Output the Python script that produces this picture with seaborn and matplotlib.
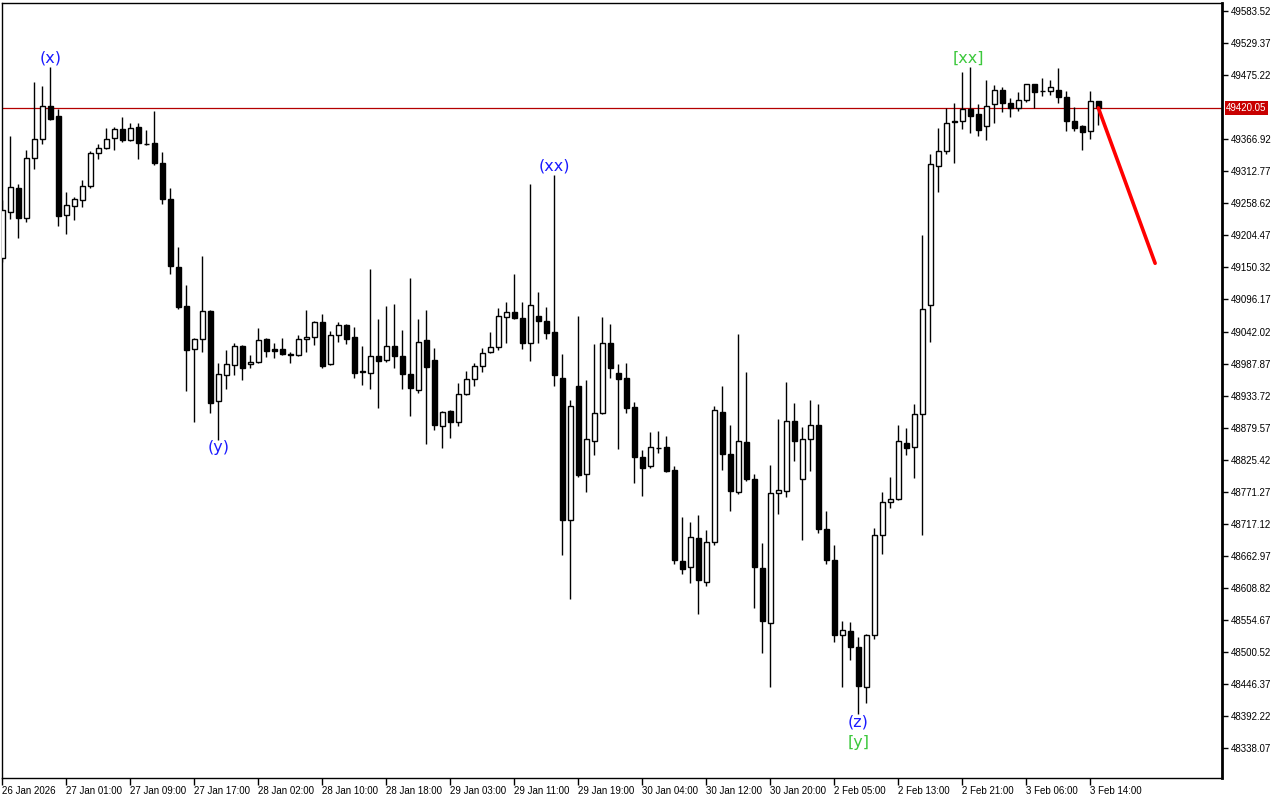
import numpy as np
import pandas as pd
import matplotlib
matplotlib.use("Agg")
import matplotlib.pyplot as plt
import matplotlib.transforms as mtransforms
import seaborn as sns

# -----------------------------
# Hourly bars (oldest first)
# -----------------------------
opens = [
    49166.3, 49244.6, 49284.1, 49234.4, 49334.9, 49367.0, 49422.8, 49405.9, 49238.5, 49253.7,
    49263.9, 49287.5, 49343.3, 49351.8, 49368.7, 49383.9, 49365.3, 49387.3, 49359.0, 49360.2,
    49326.4, 49265.6, 49150.6, 49084.7, 49012.0, 49028.9, 49076.2, 48924.6, 48968.0, 48985.0,
    49017.1, 48986.6, 48990.0, 49028.9, 49012.0, 49012.0, 49003.5, 49001.9, 49028.9, 49032.3,
    49058.1, 48986.6, 49035.7, 49052.6, 49032.3, 48974.1, 48971.4, 49000.2, 48993.4, 49017.1,
    49000.2, 48969.7, 48942.7, 49027.2, 48993.4, 48881.8, 48907.2, 48888.6, 48935.9, 48961.3,
    48983.3, 49006.9, 49015.4, 49066.1, 49074.5, 49064.4, 49022.1, 49067.8, 49059.3, 49040.7,
    48963.0, 48722.9, 48949.5, 48800.7, 48856.5, 48903.8, 49022.1, 48971.4, 48963.0, 48914.0,
    48829.4, 48814.2, 48844.6, 48846.3, 48807.5, 48653.6, 48643.5, 48692.5, 48618.1, 48685.8,
    48905.5, 48834.5, 48770.3, 48854.8, 48792.2, 48641.8, 48548.8, 48768.6, 48772.0, 48890.3,
    48792.2, 48859.9, 48883.5, 48707.7, 48655.3, 48528.5, 48535.3, 48508.8, 48440.5, 48529.7,
    48698.9, 48753.2, 48758.8, 48853.4, 48846.3, 48902.3, 49086.9, 49322.2, 49347.0, 49397.4,
    49397.4, 49417.7, 49409.1, 49389.6, 49426.1, 49449.5, 49427.7, 49419.9, 49433.9, 49459.6,
    49448.0, 49448.6, 49451.0, 49437.8, 49397.4, 49389.0, 49381.2, 49430.9,
]
highs = [
    49264.4, 49372.0, 49291.4, 49348.9, 49463.8, 49457.1, 49488.7, 49417.7, 49277.4, 49270.0,
    49298.2, 49347.2, 49358.5, 49385.6, 49387.3, 49404.2, 49394.0, 49394.0, 49382.2, 49414.8,
    49345.0, 49284.1, 49184.4, 49120.2, 49030.6, 49169.2, 49077.9, 48988.3, 49010.8, 49022.1,
    49019.3, 49001.9, 49047.5, 49030.5, 49022.1, 49030.6, 49006.9, 49035.7, 49077.9, 49059.8,
    49071.2, 49042.4, 49058.1, 49054.0, 49049.2, 49017.1, 49147.2, 49062.7, 49084.7, 49088.1,
    49044.1, 49132.0, 49062.7, 49077.9, 49013.7, 48907.2, 48908.9, 48954.5, 48975.3, 48988.3,
    49013.7, 49040.7, 49081.3, 49091.4, 49138.8, 49091.4, 49291.4, 49108.4, 49083.0, 49306.1,
    49003.5, 48925.8, 49067.8, 48959.6, 49020.5, 49066.1, 49054.3, 48986.6, 48988.3, 48922.4,
    48841.3, 48871.7, 48873.4, 48864.9, 48814.2, 48728.0, 48719.6, 48731.4, 48706.0, 48915.6,
    48949.5, 48883.5, 49037.4, 48973.1, 48800.7, 48684.1, 48815.9, 48893.7, 48956.2, 48920.7,
    48880.1, 48925.8, 48919.0, 48738.2, 48680.7, 48552.2, 48550.5, 48525.7, 48531.0, 48710.6,
    48770.4, 48796.1, 48884.4, 48879.0, 48920.2, 49205.0, 49342.3, 49385.7, 49420.7, 49427.7,
    49480.6, 49488.4, 49426.1, 49466.5, 49458.8, 49455.7, 49436.3, 49446.4, 49461.0, 49461.0,
    49471.3, 49466.5, 49486.7, 49448.0, 49422.3, 49390.5, 49448.0, 49432.0,
]
lows = [
    49159.6, 49232.2, 49200.6, 49227.7, 49317.3, 49359.5, 49400.1, 49220.9, 49207.4, 49231.1,
    49253.0, 49284.7, 49333.2, 49350.5, 49348.9, 49361.9, 49363.6, 49333.2, 49356.8, 49323.0,
    49257.1, 49138.8, 49079.6, 48942.0, 48889.6, 49006.9, 48903.8, 48858.7, 48945.4, 48968.0,
    48960.6, 48979.9, 48988.3, 48999.5, 48996.8, 49002.0, 48988.3, 49000.2, 49006.9, 49018.8,
    48979.9, 48985.0, 49023.8, 49020.5, 48964.0, 48951.1, 48944.4, 48912.3, 48990.0, 48979.9,
    48944.4, 48898.7, 48937.6, 48851.4, 48875.1, 48844.3, 48861.5, 48881.8, 48934.2, 48949.5,
    48973.1, 49005.2, 49010.3, 49022.1, 49062.7, 49012.0, 48991.7, 49022.1, 49028.9, 48949.5,
    48663.8, 48589.4, 48795.6, 48770.3, 48832.8, 48902.0, 48963.0, 48843.0, 48903.8, 48785.5,
    48764.5, 48810.8, 48836.2, 48804.0, 48648.6, 48631.7, 48616.4, 48564.0, 48611.4, 48680.7,
    48807.5, 48738.2, 48766.9, 48788.9, 48574.2, 48498.1, 48440.6, 48733.1, 48761.8, 48822.7,
    48689.1, 48805.8, 48701.0, 48648.6, 48516.7, 48441.7, 48486.3, 48395.5, 48414.9, 48522.3,
    48665.6, 48743.2, 48757.0, 48834.0, 48793.6, 48698.1, 49024.2, 49277.2, 49342.3, 49326.9,
    49385.1, 49377.3, 49371.9, 49365.6, 49395.2, 49413.0, 49404.5, 49414.5, 49430.0, 49419.9,
    49440.2, 49441.7, 49428.5, 49381.2, 49381.2, 49348.6, 49367.2, 49390.5,
]
closes = [
    49247.5, 49285.8, 49234.4, 49334.9, 49367.0, 49422.8, 49401.8, 49236.8, 49255.4, 49265.6,
    49288.0, 49343.3, 49351.8, 49367.0, 49383.9, 49365.3, 49385.6, 49360.2, 49358.5, 49326.4,
    49265.6, 49152.3, 49083.0, 49010.3, 49028.9, 49076.2, 48920.7, 48969.7, 48986.6, 49017.1,
    48979.9, 48990.0, 49027.2, 49008.6, 49008.6, 49003.5, 49003.0, 49028.9, 49032.3, 49058.1,
    48984.3, 49035.7, 49052.6, 49028.9, 48971.4, 48974.6, 49000.2, 48991.7, 49017.1, 49000.2,
    48969.7, 48946.1, 49023.8, 48981.6, 48883.5, 48905.5, 48888.6, 48935.9, 48961.3, 48983.3,
    49005.2, 49015.4, 49067.8, 49074.5, 49064.4, 49022.1, 49086.4, 49059.3, 49039.0, 48968.0,
    48722.9, 48915.6, 48799.0, 48859.9, 48903.8, 49022.1, 48979.9, 48961.3, 48912.3, 48829.4,
    48810.8, 48846.3, 48845.0, 48805.8, 48655.3, 48640.1, 48694.2, 48621.5, 48685.8, 48908.9,
    48834.5, 48772.0, 48856.5, 48792.2, 48643.5, 48552.2, 48768.6, 48773.6, 48890.3, 48856.5,
    48859.9, 48883.5, 48707.7, 48655.3, 48528.5, 48537.0, 48508.3, 48442.0, 48529.7, 48698.9,
    48753.2, 48758.8, 48857.3, 48845.7, 48902.3, 49079.3, 49325.2, 49347.0, 49395.2, 49397.0,
    49417.7, 49406.0, 49382.7, 49423.8, 49451.0, 49428.5, 49419.9, 49433.9, 49459.6, 49447.1,
    49448.3, 49454.9, 49438.7, 49397.4, 49385.7, 49378.8, 49431.6, 49420.05,
]

# x axis labels, one every 8 bars
date_labels = [
    "26 Jan 2026", "27 Jan 01:00", "27 Jan 09:00", "27 Jan 17:00", "28 Jan 02:00",
    "28 Jan 10:00", "28 Jan 18:00", "29 Jan 03:00", "29 Jan 11:00", "29 Jan 19:00",
    "30 Jan 04:00", "30 Jan 12:00", "30 Jan 20:00", "2 Feb 05:00", "2 Feb 13:00",
    "2 Feb 21:00", "3 Feb 06:00", "3 Feb 14:00",
]
date_label_bars = [0, 8, 16, 24, 32, 40, 48, 56, 64, 72, 80, 88, 96, 104, 112, 120, 128, 136]

# price scale labels (the one under the bid label is hidden)
price_ticks = [
    49583.52, 49529.37, 49475.22, 49366.92, 49312.77, 49258.62, 49204.47, 49150.32,
    49096.17, 49042.02, 48987.87, 48933.72, 48879.57, 48825.42, 48771.27, 48717.12,
    48662.97, 48608.82, 48554.67, 48500.52, 48446.37, 48392.22, 48338.07,
]
bid_price = 49420.05

# wave labels
wave_text = ["(x)", "(y)", "(xx)", "[xx]", "(z)", "[y]"]
wave_bar = [6, 27, 69, 120.8, 107, 107]
wave_price = [49504.4, 48845.2, 49321.8, 49504.4, 48382.0, 48346.5]
wave_color = ["#1a1aff", "#1a1aff", "#1a1aff", "#3cc83c", "#1a1aff", "#3cc83c"]

# projected move (red line)
proj_bar = [137, 144.1]
proj_price = [49420.05, 49157.4]

# -----------------------------
# Build dataframe
# -----------------------------
df = pd.DataFrame({"open": opens, "high": highs, "low": lows, "close": closes})
df["bar"] = np.arange(len(df))
df["bull"] = df["close"] >= df["open"]
df["body_lo"] = df[["open", "close"]].min(axis=1)
df["body_h"] = (df["close"] - df["open"]).abs()

# -----------------------------
# Plot
# -----------------------------
sns.set_theme(style="white")
plt.rcParams["font.family"] = ["Liberation Sans", "DejaVu Sans"]

fig = plt.figure(figsize=(12.8, 8), dpi=100)
ax = fig.add_axes([2 / 1280, 22 / 800, 1220 / 1280, 775.5 / 800])

# wicks then bodies
ax.vlines(df["bar"], df["low"], df["high"], color="black", linewidth=1, zorder=2)
ax.bar(df["bar"], df["body_h"], bottom=df["body_lo"], width=0.6,
       color=np.where(df["bull"], "white", "black"), edgecolor="black",
       linewidth=1, zorder=3)

# bid line
ax.axhline(bid_price, color="#b40000", linewidth=0.9, zorder=1)

# projection
sns.lineplot(x=proj_bar, y=proj_price, color="red", linewidth=2.6, ax=ax, zorder=4)

# wave labels
for t, b, p, c in zip(wave_text, wave_bar, wave_price, wave_color):
    ax.text(b, p, t, color=c, fontsize=11.5, ha="center", va="center",
            family=["DejaVu Sans"], zorder=5)

ax.set_xlim(-0.04, 152.46)
ax.set_ylim(48287.3, 49598.2)

# right price scale
ax.yaxis.tick_right()
ax.set_yticks(price_ticks)
ax.set_yticklabels([f"{v:.2f}" for v in price_ticks])
ax.tick_params(axis="y", direction="out", length=4, width=1, pad=2,
               labelsize=7, colors="black", right=True, left=False)

# bid price label box
trans = mtransforms.blended_transform_factory(ax.transAxes, ax.transData)
ax.text(1.0035, bid_price, f"{bid_price:.2f}", transform=trans, ha="left", va="center",
        color="white", fontsize=7, clip_on=False, zorder=6,
        bbox=dict(boxstyle="square,pad=0.18", fc="#c80000", ec="none"))

# time scale
ax.set_xticks(date_label_bars)
ax.set_xticklabels(date_labels, ha="left")
ax.tick_params(axis="x", direction="out", length=5, width=1, pad=1,
               labelsize=7, colors="black", bottom=True)

for side, sp in ax.spines.items():
    sp.set_color("black")
    sp.set_linewidth(1)
ax.spines["right"].set_linewidth(2)

ax.set_xlabel("")
ax.set_ylabel("")
ax.grid(False)

fig.savefig("out.png", dpi=100, facecolor="white")
